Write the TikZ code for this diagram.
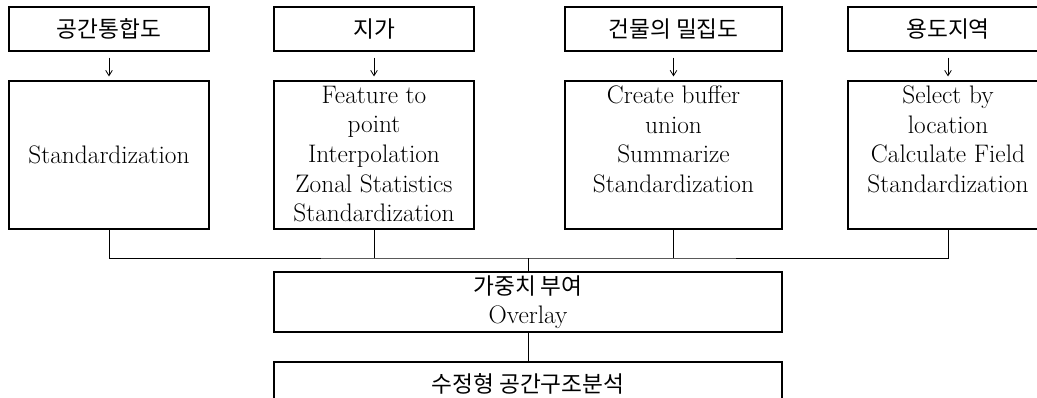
\documentclass[tikz,border=0pt]{standalone}
\usepackage{fontspec}
\newfontfamily\kr{Noto Sans CJK KR}
\usetikzlibrary{arrows.meta,positioning}

\begin{document}
\begin{tikzpicture}[x=0.75pt,y=-0.75pt,>={Straight Barb[length=4pt,width=5pt]},
                    every node/.style={font=\fontsize{19}{22.2}\selectfont},
                    stepbox/.style={draw,line width=0.9pt,inner sep=0pt,minimum width=150pt,minimum height=33pt,font=\kr\fontsize{17}{21}\selectfont},
                    procbox/.style={draw,line width=0.9pt,inner sep=0pt,minimum width=150pt,minimum height=111pt,align=center},
                    proctext/.style={inner sep=0pt,align=center},
                    link/.style={line width=0.6pt},
                    flow/.style={->,line width=0.6pt,shorten <=4.5pt,shorten >=3pt}]
  \useasboundingbox (0,0) rectangle (1037,397);

  % input data
  \node[stepbox] (t1) at (109,29) {공간통합도};
  \node[stepbox] (t2) at (374,29) {지가};
  \node[stepbox,minimum width=162.75pt] (t3) at (673.5,29) {건물의 밀집도};
  \node[stepbox] (t4) at (948,29) {용도지역};

  % processing steps
  \node[procbox] (p1) at (109,155) {Standardization};
  \node[procbox] (p2) at (374,155) {};
  \node[procbox,minimum width=162.75pt] (p3) at (673.5,155) {};
  \node[procbox] (p4) at (948,155) {};
  \node[proctext] (p2text) [below=4pt of p2.north] {Feature to\\point\\Interpolation\\Zonal Statistics\\Standardization};
  \node[proctext] (p3text) [below=4pt of p3.north] {Create buffer\\union\\Summarize\\Standardization};
  \node[proctext] (p4text) [below=4pt of p4.north] {Select by\\location\\Calculate Field\\Standardization};

  % overlay and result
  \node[procbox,minimum width=381pt,minimum height=45pt] (ov) at (528,302) {{\kr\fontsize{17}{21}\selectfont 가중치 부여}\\Overlay};
  \node[stepbox,minimum width=381pt,minimum height=33pt] (res) at (528,384) {수정형 공간구조분석};
  \coordinate (bus) at (528,258);

  \draw[flow] (t1) -- (p1);
  \draw[flow] (t2) -- (p2);
  \draw[flow] (t3) -- (p3);
  \draw[flow] (t4) -- (p4);
  \draw[link] (p1.south) |- (bus) -| (p4.south);
  \draw[link] (p2.south) -- (p2.south |- bus);
  \draw[link] (p3.south) -- (p3.south |- bus);
  \draw[link] (bus) -- (ov);
  \draw[link] (ov) -- (res);
\end{tikzpicture}
\end{document}
